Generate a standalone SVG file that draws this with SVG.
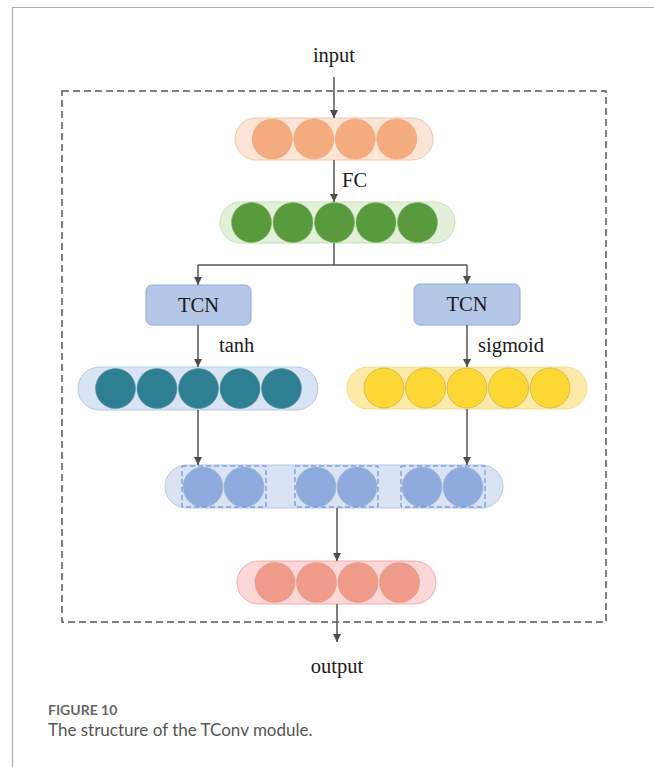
<svg xmlns="http://www.w3.org/2000/svg" width="654" height="767" viewBox="0 0 654 767">
<defs>
<marker id="ah" viewBox="0 0 10 10" refX="10" refY="5" markerWidth="8" markerHeight="8" markerUnits="userSpaceOnUse" orient="auto">
<path d="M0,0 L10,5 L0,10 z" fill="#4d4d4d"/>
</marker>
<style>
.lbl{font-family:"Liberation Serif","Times New Roman",serif;font-size:20.5px;fill:#1a1a1a}
.ln{stroke:#555;stroke-width:1.5;fill:none}
.cap1{font-family:Lato,"Open Sans",sans-serif;font-size:14px;font-weight:700;fill:#666}
.cap2{font-family:Lato,"Open Sans",sans-serif;font-size:17px;fill:#555}
.tcn{fill:#b4c7e7;stroke:#8faadc;stroke-width:1}
</style>
</defs>
<rect width="654" height="767" fill="#fff"/>
<path d="M12.5,767 V7.5 H654" fill="none" stroke="#aaa" stroke-width="1.2"/>
<rect x="62" y="91" width="544" height="531" fill="none" stroke="#555" stroke-width="1.5" stroke-dasharray="7,4"/>

<g id="input"><text class="lbl" x="334" y="62" text-anchor="middle">input</text></g>

<g id="orange">
<rect x="235" y="118" width="198" height="42" rx="21" fill="#fbe5d6" stroke="#f4c7ab" stroke-width="1"/>
<g fill="#f4ac7e" stroke="#e9a07a" stroke-width="0.6">
<circle cx="272.25" cy="139" r="20"/><circle cx="313.75" cy="139" r="20"/><circle cx="355.25" cy="139" r="20"/><circle cx="396.75" cy="139" r="20"/>
</g>
</g>

<g id="green">
<rect x="220" y="202" width="235" height="41" rx="20.5" fill="#e2f0d9" stroke="#c5e0b4" stroke-width="1"/>
<g fill="#599a3d" stroke="#7fb068" stroke-width="0.6">
<circle cx="251.5" cy="222.5" r="20"/><circle cx="293" cy="222.5" r="20"/><circle cx="334.5" cy="222.5" r="20"/><circle cx="376" cy="222.5" r="20"/><circle cx="417.5" cy="222.5" r="20"/>
</g>
</g>

<g id="tcn-left"><rect class="tcn" x="146" y="285" width="105" height="40" rx="6"/><text class="lbl" x="198.5" y="312" text-anchor="middle">TCN</text></g>
<g id="tcn-right"><rect class="tcn" x="414" y="284" width="106" height="41" rx="6"/><text class="lbl" x="467" y="311" text-anchor="middle">TCN</text></g>

<g id="teal">
<rect x="78" y="367" width="240" height="43" rx="21.5" fill="#dae3f3" stroke="#b4c7e7" stroke-width="1"/>
<g fill="#2f7f93" stroke="#5c97a6" stroke-width="0.6">
<circle cx="115.5" cy="388.5" r="20"/><circle cx="157" cy="388.5" r="20"/><circle cx="198.5" cy="388.5" r="20"/><circle cx="240" cy="388.5" r="20"/><circle cx="281.5" cy="388.5" r="20"/>
</g>
</g>

<g id="yellow">
<rect x="347" y="367" width="240" height="42" rx="21" fill="#fde9a8" stroke="#f7dc8c" stroke-width="1"/>
<g fill="#fdd835" stroke="#c8b450" stroke-width="0.8">
<circle cx="384" cy="388" r="20"/><circle cx="425.5" cy="388" r="20"/><circle cx="467" cy="388" r="20"/><circle cx="508.5" cy="388" r="20"/><circle cx="550" cy="388" r="20"/>
</g>
</g>

<g id="product">
<rect x="165" y="465" width="338" height="43" rx="21.5" fill="#dae3f3" stroke="#b4c7e7" stroke-width="1"/>
<g fill="#8faadc" stroke="#9fb3d6" stroke-width="0.6">
<circle cx="203" cy="487" r="20"/><circle cx="244" cy="487" r="20"/><circle cx="316" cy="487" r="20"/><circle cx="357" cy="487" r="20"/><circle cx="422" cy="487" r="20"/><circle cx="463" cy="487" r="20"/>
</g>
<g fill="none" stroke="#5b85cf" stroke-width="1" stroke-dasharray="5,3">
<rect x="182" y="466" width="84" height="41"/><rect x="295" y="466" width="83" height="41"/><rect x="401" y="466" width="84" height="41"/>
</g>
</g>

<g id="pink">
<rect x="237" y="561" width="199" height="43" rx="21.5" fill="#fbd7d7" stroke="#f2aaa6" stroke-width="1"/>
<g fill="#ee9b8a" stroke="#e89384" stroke-width="0.6">
<circle cx="275" cy="582.5" r="20"/><circle cx="316.5" cy="582.5" r="20"/><circle cx="358" cy="582.5" r="20"/><circle cx="399.5" cy="582.5" r="20"/>
</g>
</g>

<g id="output"><text class="lbl" x="337" y="673" text-anchor="middle">output</text></g>

<g id="connectors">
<line class="ln" x1="334" y1="77" x2="334" y2="118" marker-end="url(#ah)"/>
<line class="ln" x1="334" y1="160" x2="334" y2="202" marker-end="url(#ah)"/>
<path class="ln" d="M334,243 V265 M198,265 H467"/>
<line class="ln" x1="198" y1="265" x2="198" y2="285" marker-end="url(#ah)"/>
<line class="ln" x1="467" y1="265" x2="467" y2="284" marker-end="url(#ah)"/>
<line class="ln" x1="198" y1="325" x2="198" y2="367" marker-end="url(#ah)"/>
<line class="ln" x1="467" y1="325" x2="467" y2="367" marker-end="url(#ah)"/>
<line class="ln" x1="198" y1="410" x2="198" y2="465" marker-end="url(#ah)"/>
<line class="ln" x1="467" y1="409" x2="467" y2="465" marker-end="url(#ah)"/>
<line class="ln" x1="337" y1="508" x2="337" y2="561" marker-end="url(#ah)"/>
<line class="ln" x1="337" y1="604" x2="337" y2="642" marker-end="url(#ah)"/>
<text class="lbl" x="342" y="187">FC</text>
<text class="lbl" x="219" y="352">tanh</text>
<text class="lbl" x="478" y="352">sigmoid</text>
</g>

<text class="cap1" x="48" y="715">FIGURE 10</text>
<text class="cap2" x="48" y="736">The structure of the TConv module.</text>
</svg>
